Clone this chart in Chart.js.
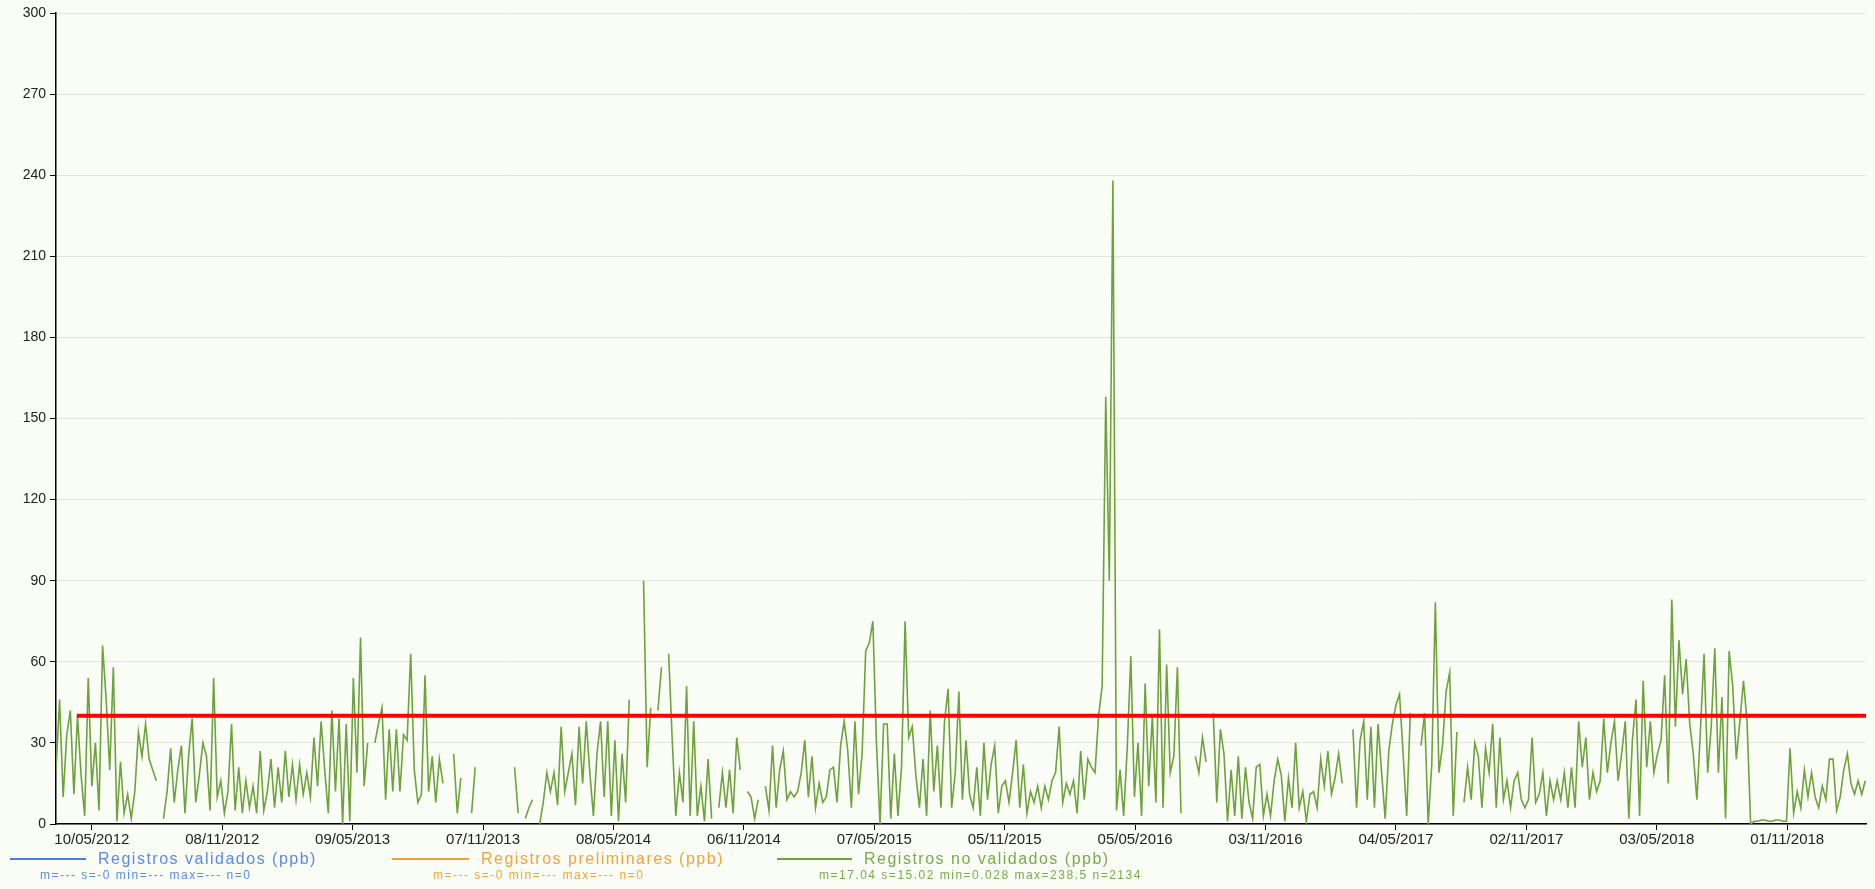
<!DOCTYPE html>
<html>
<head>
<meta charset="utf-8">
<script src="https://cdn.jsdelivr.net/npm/chart.js@4.4.1/dist/chart.umd.min.js"></script>
<style>
    html, body { margin: 0; padding: 0; background: #fafdf6; }
    #wrap { position: relative; width: 1875px; height: 889px; }
    #chart { position: absolute; left: 0; top: 0; }
    .leg { position: absolute; font-family: "Liberation Sans", Arial, sans-serif; white-space: nowrap; }
    .leg-name { font-size: 16px; letter-spacing: 1.5px; line-height: 18px; }
    .leg-stat { font-size: 12px; letter-spacing: 1.5px; line-height: 14px; }
    .leg-line { position: absolute; height: 2px; }
</style>
</head>
<body>
<div id="wrap">
    <canvas id="chart" width="1875" height="889"></canvas>
</div>
<script>
    // ---------------------- DATA ---------------------- //
    // one value every 5 days, first one 50 days before 10/05/2012, null = no data
    var FIRST_DAY = -50;
    var STEP = 5;

    // 21/03/2012 -> 13/08/2013
    var periodoA = [
        20, 46, 10, 33, 42, 11, 40, 18, 3, 54,
        14, 30, 5, 66, 46, 20, 58, 1, 23, 4,
        11, 2, 12, 34, 25, 37, 24, 20, 16, null,
        2, 12, 28, 8, 20, 29, 4, 25, 39, 8,
        18, 30, 25, 5, 54, 10, 16, 4, 12, 37,
        5, 21, 4, 16, 6, 14, 4, 27, 5, 12,
        24, 6, 21, 8, 27, 10, 22, 9, 22, 11,
        19, 10, 32, 14, 38, 20, 4, 42, 12, 39,
        0, 37, 1, 54, 19, 69, 14, 30, null, 30,
        37, 43, 9, 35, 12, 35, 12, 33, 31, 63,
        20, 8, 11
    ];
    // 18/08/2013 -> 14/01/2015
    var periodoB = [
        55, 12, 25, 8, 24, 15, null, null, 26, 4,
        17, null, null, 4, 21, null, null, null, null, null,
        null, null, null, null, null, 21, 4, null, 2, 6,
        9, null, 0, 8, 19, 12, 19, 7, 36, 12,
        19, 26, 7, 36, 15, 38, 19, 3, 26, 38,
        10, 38, 3, 31, 1, 26, 8, 46, null, null,
        null, 90, 21, 43, null, 42, 58, null, 63, 31,
        3, 19, 8, 51, 3, 38, 3, 14, 1, 24,
        2, null, 6, 19, 6, 20, 4, 32, 20, null,
        12, 10, 2, 9, null, 14, 5, 29, 6, 20,
        27, 9, 12, 10
    ];
    // 19/01/2015 -> 28/05/2016
    var periodoC = [
        12, 19, 31, 10, 25, 6, 15, 8, 10, 20,
        21, 8, 29, 38, 27, 6, 38, 11, 26, 64,
        67, 75, 30, 0, 37, 37, 2, 26, 3, 21,
        75, 32, 36, 18, 6, 24, 3, 42, 12, 29,
        6, 38, 50, 6, 19, 49, 9, 31, 11, 6,
        21, 3, 30, 9, 22, 29, 4, 14, 16, 8,
        19, 31, 6, 22, 4, 12, 8, 14, 6, 14,
        9, 16, 19, 36, 8, 15, 11, 16, 4, 27,
        9, 24, 21, 19, 40, 51, 158, 90, 238, 5,
        20, 3, 28, 62, 10, 30, 3, 52, 14, 40,
        8
    ];
    // 02/06/2016 -> 26/10/2017
    var periodoD = [
        72, 6, 59, 19, 25, 58, 4, null, null, null,
        25, 19, 32, 23, null, 41, 8, 35, 26, 1,
        20, 3, 25, 2, 21, 8, 2, 21, 22, 3,
        11, 3, 16, 24, 18, 1, 17, 6, 30, 6,
        12, 1, 11, 12, 6, 24, 14, 27, 11, 17,
        26, 15, null, null, 35, 6, 31, 38, 9, 36,
        6, 37, 19, 2, 27, 37, 44, 48, 26, 3,
        41, null, null, 29, 41, 0, 22, 82, 19, 29,
        49, 56, 3, 34, null, 8, 21, 9, 30, 25,
        6, 28, 19, 37, 6, 32, 9, 16, 6, 16,
        19, 9, 6, 9
    ];
    // 31/10/2017 -> 13/02/2019
    var periodoE = [
        32, 8, 11, 19, 3, 16, 9, 16, 9, 19,
        6, 21, 6, 38, 21, 32, 9, 19, 12, 16,
        39, 19, 30, 38, 16, 26, 38, 2, 31, 46,
        3, 53, 21, 38, 19, 26, 31, 55, 15, 83,
        36, 68, 48, 61, 37, 26, 9, 35, 63, 19,
        36, 65, 19, 47, 2, 64, 51, 24, 38, 53,
        38, 0, 1, 1, 1.5, 1.5, 1, 1, 1.5, 1.5,
        1, 1, 28, 4, 12, 6, 20, 10, 19, 10,
        6, 14, 9, 24, 24, 5, 10, 20, 26, 15,
        11, 16, 11, 16
    ];

    var tickLabels = ['10/05/2012', '08/11/2012', '09/05/2013', '07/11/2013', '08/05/2014',
        '06/11/2014', '07/05/2015', '05/11/2015', '05/05/2016', '03/11/2016',
        '04/05/2017', '02/11/2017', '03/05/2018', '01/11/2018'];

    var limite = 40;          // red line (ppb)
    var limiteDesde = -21;    // day where the red line starts
    var X_MIN = -50, X_MAX = 2476;

    // ---------------------- HELPERS ---------------------- //
    var DAY0 = Date.UTC(2012, 4, 10);
    function toDay(s) {
        var p = s.split('/');
        return Math.round((Date.UTC(+p[2], +p[1] - 1, +p[0]) - DAY0) / 86400000);
    }
    var tickDays = tickLabels.map(toDay);

    var valores = periodoA.concat(periodoB, periodoC, periodoD, periodoE);
    var puntos = valores.map(function (v, i) {
        return { x: FIRST_DAY + i * STEP, y: v };
    });

    // ---------------------- CHART ---------------------- //
    var ctx = document.getElementById('chart').getContext('2d');
    var chart = new Chart(ctx, {
        type: 'line',
        data: {
            datasets: [
                { label: 'Registros validados (ppb)', data: [], borderColor: '#4a7fe0', order: 3 },
                { label: 'Registros preliminares (ppb)', data: [], borderColor: '#f0a030', order: 2 },
                {
                    label: 'Registros no validados (ppb)',
                    data: puntos,
                    borderColor: '#6ea23c',
                    borderWidth: 1.6,
                    spanGaps: false,
                    order: 1
                },
                {
                    label: 'limite',
                    data: [{ x: limiteDesde, y: limite }, { x: X_MAX, y: limite }],
                    borderColor: '#ff0000',
                    borderWidth: 4,
                    order: 0
                }
            ]
        },
        options: {
            responsive: false,
            animation: false,
            events: [],
            elements: { point: { radius: 0 }, line: { tension: 0 } },
            layout: { padding: { left: 0, right: 9, top: 13, bottom: 0 } },
            plugins: { legend: { display: false }, tooltip: { enabled: false } },
            scales: {
                x: {
                    type: 'linear',
                    min: X_MIN,
                    max: X_MAX,
                    afterBuildTicks: function (scale) {
                        scale.ticks = tickDays.map(function (d) { return { value: d }; });
                    },
                    afterFit: function (scale) { scale.height = 65; },
                    ticks: {
                        autoSkip: false,
                        maxRotation: 0,
                        padding: 1,
                        color: '#222',
                        font: { family: 'Liberation Sans', size: 15 },
                        callback: function (v, i) { return tickLabels[i]; }
                    },
                    grid: { drawOnChartArea: false, tickLength: 6, tickColor: '#000', tickWidth: 1 },
                    border: { color: '#000', width: 1.5 }
                },
                y: {
                    min: 0,
                    max: 300,
                    afterFit: function (scale) { scale.width = 56; },
                    ticks: {
                        stepSize: 30,
                        padding: 4,
                        color: '#222',
                        font: { family: 'Liberation Sans', size: 14 }
                    },
                    grid: { color: '#e2e4e0', tickLength: 6, tickColor: '#000', lineWidth: 1 },
                    border: { color: '#000', width: 1.5 }
                }
            }
        }
    });

    // ---------------------- LEGEND ---------------------- //
    var leyenda = [
        { name: 'Registros validados (ppb)', stat: 'm=--- s=-0 min=--- max=--- n=0', color: '#4a7fe0', text: '#5a8ae6', line: [10, 86], nameX: 98, statX: 40 },
        { name: 'Registros preliminares (ppb)', stat: 'm=--- s=-0 min=--- max=--- n=0', color: '#f0a030', text: '#f4a23c', line: [392, 469], nameX: 481, statX: 433 },
        { name: 'Registros no validados (ppb)', stat: 'm=17.04 s=15.02 min=0.028 max=238.5 n=2134', color: '#6ea23c', text: '#78aa4a', line: [777, 852], nameX: 864, statX: 819 }
    ];
    var wrap = document.getElementById('wrap');
    leyenda.forEach(function (it) {
        var l = document.createElement('div');
        l.className = 'leg-line';
        l.style.left = it.line[0] + 'px';
        l.style.width = (it.line[1] - it.line[0]) + 'px';
        l.style.top = '858px';
        l.style.background = it.color;
        wrap.appendChild(l);

        var n = document.createElement('div');
        n.className = 'leg leg-name';
        n.style.left = it.nameX + 'px';
        n.style.top = '850px';
        n.style.color = it.text;
        n.textContent = it.name;
        wrap.appendChild(n);

        var s = document.createElement('div');
        s.className = 'leg leg-stat';
        s.style.left = it.statX + 'px';
        s.style.top = '868px';
        s.style.color = it.text;
        s.textContent = it.stat;
        wrap.appendChild(s);
    });
</script>
</body>
</html>
